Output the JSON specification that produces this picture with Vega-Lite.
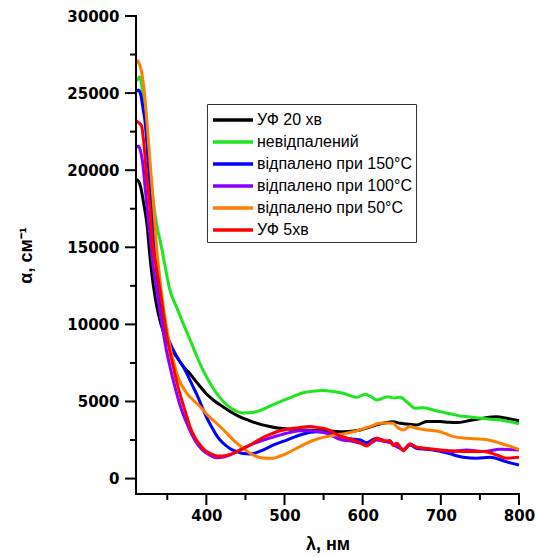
{
  "$schema": "https://vega.github.io/schema/vega-lite/v6.json",
  "width": 383,
  "height": 478,
  "autosize": {"type": "none"},
  "padding": {"left": 136, "top": 16, "right": 17, "bottom": 63},
  "background": "white",
  "config": {
    "view": {"stroke": null, "fill": null},
    "mark": {"clip": false},
    "axis": {
      "grid": false,
      "domainOpacity": 0,
      "tickOpacity": 0,
      "labelFont": "DejaVu Sans",
      "labelFontWeight": "bold",
      "labelFontSize": 15,
      "labelColor": "#000000",
      "labelFlush": false,
      "titleFont": "Liberation Sans",
      "titleFontSize": 18,
      "titleFontWeight": "bold",
      "titleColor": "#000000"
    },
    "legend": {
      "orient": "none",
      "legendX": 71,
      "legendY": 88,
      "strokeColor": "#333",
      "fillColor": "white",
      "padding": 4,
      "symbolType": "M-2,0H2",
      "symbolSize": 400,
      "symbolOffset": 10,
      "symbolStrokeWidth": 3.5,
      "labelFont": "Liberation Sans",
      "labelFontSize": 16,
      "labelColor": "black",
      "labelLimit": 300,
      "labelOffset": 12,
      "rowPadding": 2,
      "title": null
    }
  },
  "layer": [
    {
      "encoding": {
        "x": {
          "field": "x", "type": "quantitative",
          "scale": {"domain": [310, 800], "nice": false, "zero": false},
          "axis": {
            "orient": "bottom",
            "title": "λ, нм",
            "values": [400, 500, 600, 700, 800],
            "tickSize": 11,
            "labelPadding": 3,
            "titlePadding": 12
          }
        },
        "y": {
          "field": "y", "type": "quantitative",
          "scale": {"domain": [-1000, 30000], "nice": false, "zero": false},
          "axis": {
            "orient": "left",
            "title": "α, см⁻¹",
            "format": "d",
            "values": [0, 5000, 10000, 15000, 20000, 25000, 30000],
            "tickSize": 11,
            "labelPadding": 6,
            "titlePadding": 31
          }
        },
        "color": {
          "type": "nominal",
          "scale": {
            "domain": ["УФ 20 хв", "невідпалений", "відпалено при 150°C", "відпалено при 100°C", "відпалено при 50°C", "УФ 5хв"],
            "range": ["#000000", "#1ee61e", "#0000ff", "#8a00ff", "#ff8000", "#ff0000"]
          }
        }
      },
      "layer": [
        {
          "data": {"values": [
            {"x":310,"y":19400},{"x":313,"y":19300},{"x":316,"y":18900},{"x":320,"y":17800},{"x":324,"y":16500},{"x":328,"y":14300},{"x":332,"y":12600},{"x":336.5,"y":11200},{"x":342,"y":10000},{"x":349,"y":9000},{"x":355,"y":8400},{"x":362,"y":7900},{"x":370,"y":7300},{"x":379,"y":6800},{"x":390,"y":6100},{"x":400,"y":5500},{"x":410,"y":5050},{"x":421.7,"y":4650},{"x":432,"y":4300},{"x":443,"y":4000},{"x":454,"y":3780},{"x":464,"y":3600},{"x":481,"y":3380},{"x":494,"y":3260},{"x":510,"y":3200},{"x":524,"y":3150},{"x":540,"y":3130},{"x":554,"y":3110},{"x":575,"y":3040},{"x":597,"y":3150},{"x":610,"y":3350},{"x":618,"y":3480},{"x":628,"y":3600},{"x":639,"y":3680},{"x":648,"y":3590},{"x":656,"y":3540},{"x":669,"y":3480},{"x":682,"y":3700},{"x":699,"y":3700},{"x":710,"y":3650},{"x":720,"y":3630},{"x":737,"y":3760},{"x":754,"y":3910},{"x":771,"y":4010},{"x":784,"y":3910},{"x":800,"y":3750}
          ]},
          "mark": {"type": "line", "strokeWidth": 3, "interpolate": "monotone"},
          "encoding": {"color": {"datum": "УФ 20 хв"}}
        },
        {
          "data": {"values": [
            {"x":310,"y":25800},{"x":312.6,"y":25900},{"x":314.5,"y":26050},{"x":316,"y":25900},{"x":318,"y":25200},{"x":320,"y":24200},{"x":322.4,"y":22800},{"x":326.6,"y":20700},{"x":331,"y":18500},{"x":337,"y":16300},{"x":341,"y":15400},{"x":346,"y":14100},{"x":353.5,"y":12200},{"x":362,"y":11100},{"x":370,"y":10100},{"x":380,"y":8900},{"x":388,"y":7900},{"x":396,"y":7000},{"x":404.6,"y":6200},{"x":415,"y":5400},{"x":426.4,"y":4770},{"x":437,"y":4400},{"x":447,"y":4250},{"x":458,"y":4280},{"x":469,"y":4420},{"x":481,"y":4700},{"x":494,"y":4980},{"x":510,"y":5300},{"x":524,"y":5570},{"x":540,"y":5680},{"x":549,"y":5720},{"x":562,"y":5650},{"x":575,"y":5530},{"x":593,"y":5270},{"x":603,"y":5470},{"x":611,"y":5300},{"x":618,"y":5100},{"x":625,"y":5200},{"x":632,"y":5310},{"x":640,"y":5230},{"x":648,"y":5270},{"x":657,"y":4950},{"x":667,"y":4560},{"x":677,"y":4600},{"x":690,"y":4450},{"x":699,"y":4340},{"x":712,"y":4200},{"x":724.5,"y":4060},{"x":737,"y":4000},{"x":750,"y":3910},{"x":763,"y":3850},{"x":776,"y":3800},{"x":787,"y":3700},{"x":800,"y":3560}
          ]},
          "mark": {"type": "line", "strokeWidth": 3, "interpolate": "monotone"},
          "encoding": {"color": {"datum": "невідпалений"}}
        },
        {
          "data": {"values": [
            {"x":310,"y":25100},{"x":313,"y":25200},{"x":316.5,"y":24800},{"x":319,"y":24000},{"x":322.4,"y":22800},{"x":325.4,"y":20660},{"x":328.8,"y":18500},{"x":332,"y":16330},{"x":335,"y":14200},{"x":340,"y":12000},{"x":345,"y":10070},{"x":351,"y":9100},{"x":357.7,"y":8340},{"x":364,"y":7750},{"x":370.5,"y":7260},{"x":377,"y":6600},{"x":383,"y":5960},{"x":390,"y":5200},{"x":396,"y":4450},{"x":402,"y":3800},{"x":409,"y":3150},{"x":415,"y":2650},{"x":421.7,"y":2290},{"x":430,"y":1950},{"x":438.8,"y":1750},{"x":447,"y":1620},{"x":456,"y":1590},{"x":464,"y":1680},{"x":473,"y":1860},{"x":486,"y":2180},{"x":503,"y":2500},{"x":514,"y":2720},{"x":524,"y":2890},{"x":541,"y":3040},{"x":552,"y":3000},{"x":562.5,"y":2940},{"x":572,"y":2750},{"x":579.5,"y":2610},{"x":590,"y":2550},{"x":597,"y":2500},{"x":605,"y":2330},{"x":612,"y":2500},{"x":618,"y":2610},{"x":625,"y":2500},{"x":631,"y":2390},{"x":635,"y":2450},{"x":639,"y":2200},{"x":643.5,"y":2180},{"x":652,"y":1860},{"x":660.5,"y":2180},{"x":669,"y":1960},{"x":680,"y":1900},{"x":690,"y":1860},{"x":700,"y":1750},{"x":712,"y":1600},{"x":720,"y":1480},{"x":729,"y":1380},{"x":746,"y":1320},{"x":763,"y":1380},{"x":780,"y":1160},{"x":790,"y":1000},{"x":800,"y":880}
          ]},
          "mark": {"type": "line", "strokeWidth": 3, "interpolate": "monotone"},
          "encoding": {"color": {"datum": "відпалено при 150°C"}}
        },
        {
          "data": {"values": [
            {"x":310,"y":21500},{"x":313,"y":21550},{"x":315.5,"y":21300},{"x":318,"y":20660},{"x":322.4,"y":18500},{"x":326.6,"y":16330},{"x":328.5,"y":15470},{"x":331,"y":14180},{"x":336.5,"y":12230},{"x":341,"y":10700},{"x":345,"y":9420},{"x":349,"y":8300},{"x":353.5,"y":7260},{"x":358,"y":6300},{"x":362,"y":5530},{"x":368,"y":4500},{"x":375,"y":3590},{"x":381,"y":2900},{"x":387.7,"y":2290},{"x":394,"y":1900},{"x":400.5,"y":1640},{"x":407,"y":1450},{"x":413,"y":1350},{"x":421,"y":1380},{"x":430,"y":1530},{"x":440,"y":1780},{"x":451.6,"y":2070},{"x":462,"y":2300},{"x":473,"y":2500},{"x":490,"y":2760},{"x":511,"y":3040},{"x":522,"y":3100},{"x":532.6,"y":3110},{"x":544,"y":3050},{"x":554,"y":2940},{"x":562,"y":2750},{"x":571,"y":2550},{"x":588,"y":2400},{"x":597,"y":2300},{"x":605,"y":2180},{"x":612,"y":2350},{"x":618,"y":2500},{"x":627,"y":2420},{"x":635,"y":2330},{"x":643.5,"y":2070},{"x":652,"y":1900},{"x":660.5,"y":2240},{"x":669,"y":2030},{"x":680,"y":1950},{"x":690,"y":1900},{"x":712,"y":1750},{"x":733,"y":1860},{"x":754,"y":1750},{"x":776,"y":1900},{"x":800,"y":1860}
          ]},
          "mark": {"type": "line", "strokeWidth": 3, "interpolate": "monotone"},
          "encoding": {"color": {"datum": "відпалено при 100°C"}}
        },
        {
          "data": {"values": [
            {"x":310,"y":26900},{"x":312,"y":27100},{"x":315,"y":26800},{"x":317,"y":26400},{"x":320,"y":25400},{"x":324.5,"y":22800},{"x":328.8,"y":20000},{"x":333,"y":17400},{"x":336,"y":15200},{"x":340,"y":13200},{"x":345,"y":11150},{"x":349,"y":9800},{"x":353.5,"y":8550},{"x":358,"y":7600},{"x":362,"y":6830},{"x":368,"y":6100},{"x":375,"y":5530},{"x":383,"y":5100},{"x":392,"y":4660},{"x":402,"y":4100},{"x":413,"y":3590},{"x":424,"y":3050},{"x":434.5,"y":2500},{"x":445,"y":2050},{"x":456,"y":1640},{"x":466,"y":1400},{"x":477,"y":1320},{"x":485,"y":1320},{"x":494,"y":1450},{"x":503,"y":1640},{"x":515,"y":1950},{"x":528,"y":2290},{"x":541,"y":2550},{"x":554,"y":2720},{"x":565,"y":2820},{"x":575,"y":2900},{"x":592,"y":3090},{"x":609,"y":3370},{"x":622,"y":3590},{"x":630,"y":3600},{"x":639,"y":3590},{"x":643.5,"y":3370},{"x":652,"y":3150},{"x":660.5,"y":3370},{"x":669,"y":3260},{"x":682,"y":3150},{"x":699,"y":3040},{"x":716,"y":2720},{"x":733,"y":2610},{"x":754,"y":2550},{"x":765,"y":2450},{"x":776,"y":2290},{"x":788,"y":2100},{"x":800,"y":1880}
          ]},
          "mark": {"type": "line", "strokeWidth": 3, "interpolate": "monotone"},
          "encoding": {"color": {"datum": "відпалено при 50°C"}}
        },
        {
          "data": {"values": [
            {"x":310,"y":23200},{"x":313,"y":23100},{"x":317,"y":22900},{"x":320,"y":21740},{"x":323.7,"y":19580},{"x":328,"y":17420},{"x":331,"y":15260},{"x":334,"y":14300},{"x":340.7,"y":12230},{"x":345,"y":10700},{"x":349,"y":9420},{"x":353,"y":8300},{"x":357.7,"y":7260},{"x":363,"y":6100},{"x":368.5,"y":5100},{"x":374,"y":4200},{"x":379,"y":3370},{"x":385,"y":2700},{"x":392,"y":2180},{"x":398,"y":1850},{"x":404.6,"y":1640},{"x":411,"y":1500},{"x":417.5,"y":1460},{"x":425,"y":1500},{"x":434.5,"y":1640},{"x":445,"y":1900},{"x":456,"y":2180},{"x":465,"y":2450},{"x":473,"y":2680},{"x":481,"y":2850},{"x":490,"y":3040},{"x":500,"y":3170},{"x":511,"y":3260},{"x":520,"y":3320},{"x":532.6,"y":3370},{"x":544,"y":3300},{"x":554,"y":3200},{"x":562,"y":3000},{"x":571,"y":2760},{"x":580,"y":2620},{"x":588,"y":2500},{"x":597,"y":2300},{"x":605,"y":2110},{"x":612,"y":2400},{"x":618,"y":2610},{"x":627,"y":2450},{"x":635,"y":2450},{"x":639,"y":2150},{"x":643.5,"y":2290},{"x":652,"y":1810},{"x":660.5,"y":2240},{"x":669,"y":2030},{"x":680,"y":1960},{"x":690,"y":1900},{"x":712,"y":1810},{"x":733,"y":1750},{"x":754,"y":1750},{"x":771.5,"y":1530},{"x":784,"y":1320},{"x":800,"y":1380}
          ]},
          "mark": {"type": "line", "strokeWidth": 3, "interpolate": "monotone"},
          "encoding": {"color": {"datum": "УФ 5хв"}}
        }
      ]
    },
    {
      "data": {"values": [{"v": 350}, {"v": 450}, {"v": 550}, {"v": 650}, {"v": 750}]},
      "mark": {"type": "tick", "orient": "vertical", "clip": false, "color": "black", "opacity": 1, "size": 6, "thickness": 2},
      "encoding": {
        "x": {"field": "v", "type": "quantitative"},
        "y": {"datum": -1195, "type": "quantitative"}
      }
    },
    {
      "data": {"values": [{"v": 400}, {"v": 500}, {"v": 600}, {"v": 700}, {"v": 800}]},
      "mark": {"type": "tick", "orient": "vertical", "clip": false, "color": "black", "opacity": 1, "size": 11, "thickness": 2},
      "encoding": {
        "x": {"field": "v", "type": "quantitative"},
        "y": {"datum": -1357, "type": "quantitative"}
      }
    },
    {
      "data": {"values": [{"v": 2500}, {"v": 7500}, {"v": 12500}, {"v": 17500}, {"v": 22500}, {"v": 27500}]},
      "mark": {"type": "tick", "orient": "horizontal", "clip": false, "color": "black", "opacity": 1, "size": 6, "thickness": 2},
      "encoding": {
        "y": {"field": "v", "type": "quantitative"},
        "x": {"datum": 306.16, "type": "quantitative"}
      }
    },
    {
      "data": {"values": [{"v": 0}, {"v": 5000}, {"v": 10000}, {"v": 15000}, {"v": 20000}, {"v": 25000}, {"v": 30000}]},
      "mark": {"type": "tick", "orient": "horizontal", "clip": false, "color": "black", "opacity": 1, "size": 11, "thickness": 2},
      "encoding": {
        "y": {"field": "v", "type": "quantitative"},
        "x": {"datum": 302.96, "type": "quantitative"}
      }
    },
    {
      "data": {"values": [{"v": 0}]},
      "mark": {"type": "tick", "orient": "vertical", "clip": false, "color": "black", "opacity": 1, "size": 480, "thickness": 2},
      "encoding": {
        "x": {"datum": 310, "type": "quantitative"},
        "y": {"datum": 14500, "type": "quantitative"}
      }
    },
    {
      "data": {"values": [{"v": 0}]},
      "mark": {"type": "tick", "orient": "horizontal", "clip": false, "color": "black", "opacity": 1, "size": 385, "thickness": 2},
      "encoding": {
        "x": {"datum": 555, "type": "quantitative"},
        "y": {"datum": -1000, "type": "quantitative"}
      }
    }
  ]
}
